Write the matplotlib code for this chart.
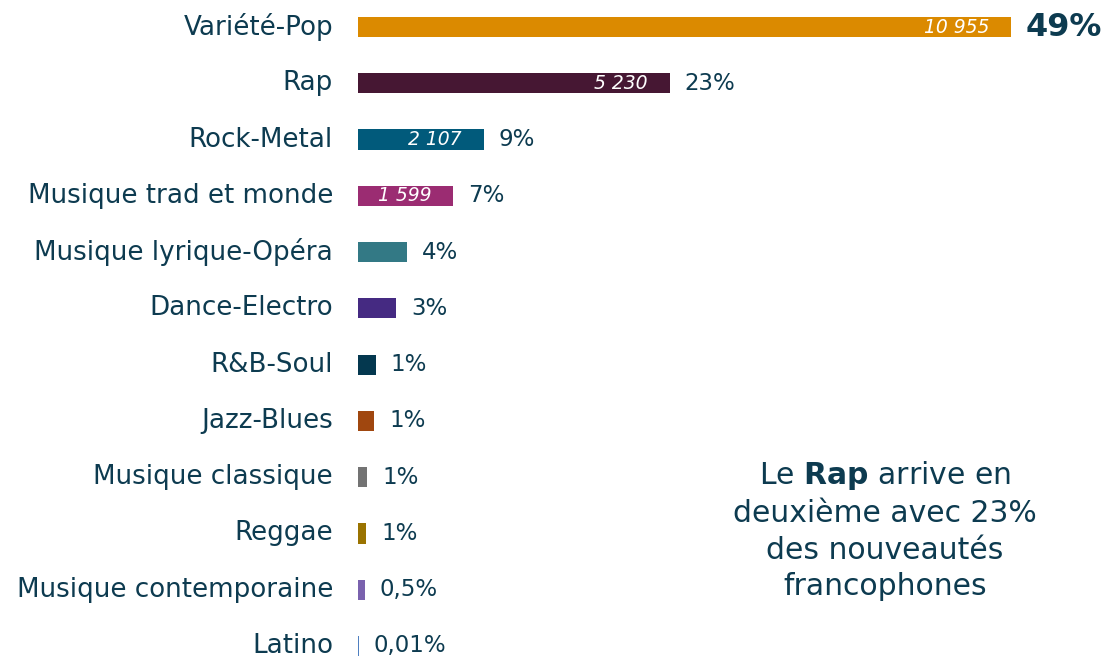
import numpy as np
import matplotlib.pyplot as plt

plt.rcParams['font.family'] = ['DejaVu Sans']
plt.rcParams['mathtext.fontset'] = 'custom'
plt.rcParams['mathtext.rm'] = 'DejaVu Sans'
plt.rcParams['mathtext.bf'] = 'DejaVu Sans:bold'

genres = ['Variété-Pop', 'Rap', 'Rock-Metal', 'Musique trad et monde',
          'Musique lyrique-Opéra', 'Dance-Electro', 'R&B-Soul', 'Jazz-Blues',
          'Musique classique', 'Reggae', 'Musique contemporaine', 'Latino']
counts = [10955, 5230, 2107, 1599, 820, 640, 300, 270, 150, 135, 115, 10]
shown = ['10 955', '5 230', '2 107', '1 599', '', '', '', '', '', '', '', '']
shares = ['49%', '23%', '9%', '7%', '4%', '3%', '1%', '1%', '1%', '1%', '0,5%', '0,01%']
colors = ['#DB8A00', '#461733', '#015A7B', '#9B2C72', '#337985', '#452A82',
          '#04384F', '#A0470F', '#737373', '#9A7300', '#7A62AE', '#4F7FC0']

txt = '#0D3B50'

fig = plt.figure(figsize=(11.06, 6.58), dpi=100)
ax = fig.add_axes([358 / 1106, 0, (1011 - 358) / 1106, 1])
y = np.arange(len(genres))
ax.barh(y, counts, height=0.36, color=colors)
ax.set_xlim(0, counts[0])
ax.set_ylim(11 + 12 / 56.27, -27 / 56.27)
ax.axis('off')

for i in range(len(genres)):
    ax.annotate(genres[i], (0, i), xytext=(-25, 0), textcoords='offset pixels',
                ha='right', va='center', fontsize=18.8, color=txt)
    if shown[i]:
        ax.annotate(shown[i], (counts[i], i), xytext=(-22, 0), textcoords='offset pixels',
                    ha='right', va='center', fontsize=13.5, color='white', style='italic')
    big = i == 0
    ax.annotate(shares[i], (counts[i], i), xytext=(15, 0), textcoords='offset pixels',
                ha='left', va='center', fontsize=23 if big else 16.5,
                fontweight='bold' if big else 'normal', color=txt)

fig.text(885 / 1106, 1 - 530 / 658,
         'Le $\\bf{Rap}$ arrive en\ndeuxième avec 23%\ndes nouveautés\nfrancophones',
         ha='center', va='center', fontsize=21.5, color=txt, linespacing=1.33)

fig.savefig('out.png', dpi=100)
